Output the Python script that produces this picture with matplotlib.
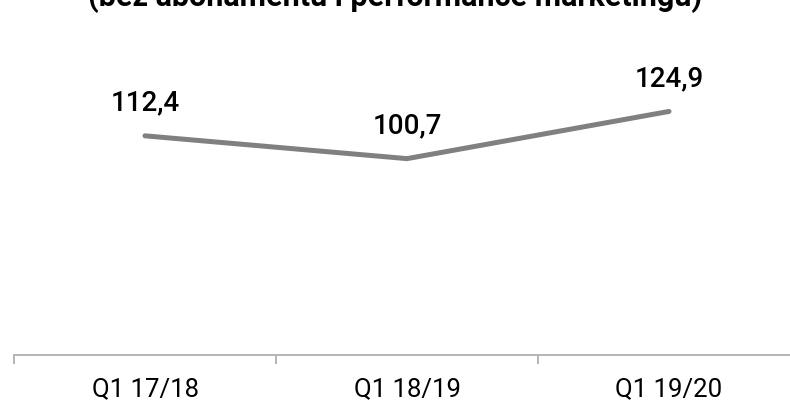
import matplotlib
matplotlib.use("Agg")
import matplotlib.pyplot as plt

plt.rcParams["font.family"] = ["Roboto", "DejaVu Sans"]

categories = ["Q1 17/18", "Q1 18/19", "Q1 19/20"]
values = [112.4, 100.7, 124.9]
value_labels = ["112,4", "100,7", "124,9"]
subtitle = "(bez abonamentu i performance marketingu)"

W, H = 790, 404
fig = plt.figure(figsize=(W / 100, H / 100), dpi=100)

# axes spans x = 14..800 px, y = 82..355 px (from top)
ax = fig.add_axes([14 / W, (H - 355) / H, 786 / W, 273 / H])
ax.set_xlim(-0.5, len(categories) - 0.5)
ax.set_ylim(0, 140)

x = list(range(len(categories)))
ax.plot(x, values, color="#808080", linewidth=3.6, solid_capstyle="round",
        solid_joinstyle="miter", zorder=3)

for xi, v, lab in zip(x, values, value_labels):
    ax.annotate(lab, (xi, v), xytext=(0, 18), textcoords="offset points",
                ha="center", va="baseline", fontsize=20, fontweight="medium",
                color="#000000")

for side in ["top", "right", "left"]:
    ax.spines[side].set_visible(False)
ax.spines["bottom"].set_color("#b0b0b0")
ax.spines["bottom"].set_linewidth(1.3)

ax.set_yticks([])
ax.set_xticks([-0.5, 0.5, 1.5, 2.5])
ax.set_xticklabels([])
ax.set_xticks(x, minor=True)
ax.set_xticklabels(categories, minor=True, fontsize=18.5, color="#000000")
ax.tick_params(axis="x", which="major", length=6.5, width=1.3, color="#b0b0b0")
ax.tick_params(axis="x", which="minor", length=0, pad=16)

fig.text(0.5, 1 - 6 / H, subtitle, ha="center", va="baseline",
         fontsize=22, fontweight="bold", color="#000000")

fig.savefig("out.png", dpi=100)
